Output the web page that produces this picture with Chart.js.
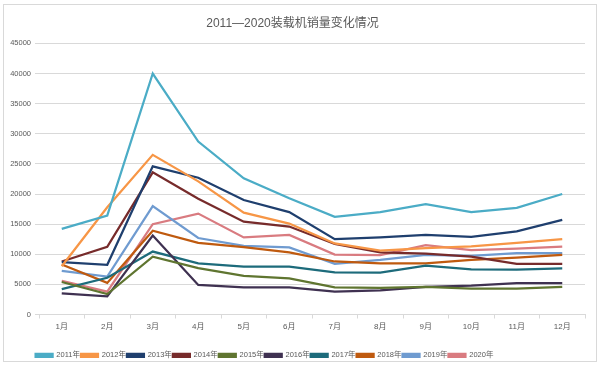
<!DOCTYPE html>
<html>
<head>
<meta charset="utf-8">
<script src="https://cdn.jsdelivr.net/npm/chart.js@4/dist/chart.umd.min.js"></script>
<style>
  html, body { margin: 0; padding: 0; background: #fff; }
  #wrap { width: 600px; height: 366px; }
</style>
</head>
<body>
<div id="wrap"><canvas id="myChart" width="600" height="366"></canvas></div>
<script>
const months = ['1月', '2月', '3月', '4月', '5月', '6月', '7月', '8月', '9月', '10月', '11月', '12月'];
const years = ['2011年', '2012年', '2013年', '2014年', '2015年', '2016年', '2017年', '2018年', '2019年', '2020年'];

const s2011 = [14200, 16400, 40000, 28700, 22600, 19300, 16200, 17000, 18300, 17000, 17700, 20000];
const s2012 = [8000, 17800, 26500, 22100, 16900, 15100, 11800, 10600, 11000, 11300, 11900, 12500];
const s2013 = [8700, 8250, 24600, 22700, 19000, 17000, 12500, 12800, 13200, 12900, 13800, 15700];
const s2014 = [8800, 11250, 23600, 19200, 15400, 14600, 11700, 10300, 10100, 9600, 8400, 8400];
const s2015 = [5400, 3400, 9600, 7700, 6400, 6000, 4500, 4400, 4600, 4300, 4300, 4600];
const s2016 = [3500, 3000, 13100, 4900, 4500, 4500, 3800, 4000, 4600, 4800, 5200, 5200];
const s2017 = [4200, 6100, 10450, 8500, 7950, 7950, 7000, 6950, 8100, 7500, 7450, 7650];
const s2018 = [8300, 5250, 13900, 11900, 11200, 10300, 8800, 8500, 8500, 9050, 9450, 9900];
const s2019 = [7250, 6300, 18000, 12700, 11400, 11150, 8400, 9050, 9900, 9750, 10200, 10200];
const s2020 = [5600, 3800, 15000, 16750, 12800, 13200, 9950, 9850, 11500, 10700, 10950, 11250];

const seriesData = [s2011, s2012, s2013, s2014, s2015, s2016, s2017, s2018, s2019, s2020];
const colors = ['#4bacc6', '#f79646', '#1f3f6e', '#772b2b', '#5f7530', '#3f3151', '#1d6b7b', '#bf5a0f', '#6f9bd0', '#d97b80'];

const fontFamily = '"Liberation Sans", "Noto Sans CJK SC", sans-serif';

// white background + thin frame round the chart
const frame = {
    id: 'frame',
    beforeDraw(chart) {
        const c = chart.ctx;
        c.save();
        c.fillStyle = '#ffffff';
        c.fillRect(0, 0, chart.width, chart.height);
        c.strokeStyle = '#d9d9d9';
        c.lineWidth = 1;
        c.strokeRect(3.5, 4.5, 593, 357);
        c.restore();
    },
    // the legend row sits a bit left of centre in the original
    afterLayout(chart) {
        chart.legend.left -= 56;
    }
};

const ctx = document.getElementById('myChart').getContext('2d');

const myChart = new Chart(ctx, {
    type: 'line',
    data: {
        labels: months,
        datasets: seriesData.map(function (d, i) {
            return {
                label: years[i],
                data: d,
                borderColor: colors[i],
                backgroundColor: colors[i],
                borderWidth: 2.25,
                pointRadius: 0,
                tension: 0,
                fill: false
            };
        })
    },
    options: {
        responsive: false,
        animation: false,
        layout: { padding: { left: 0, right: 15, top: 6, bottom: -3 } },
        plugins: {
            title: {
                display: true,
                text: '2011—2020装载机销量变化情况',
                color: '#595959',
                font: { family: fontFamily, size: 12, weight: 'normal' },
                padding: { top: 10, bottom: 13 }
            },
            legend: {
                position: 'bottom',
                labels: {
                    color: '#595959',
                    font: { family: fontFamily, size: 7.5 },
                    boxWidth: 17,
                    boxHeight: 3,
                    padding: 1
                }
            },
            tooltip: { enabled: false }
        },
        scales: {
            x: {
                offset: true,
                afterFit(scale) { scale.height = 36; },
                grid: {
                    offset: true,
                    drawOnChartArea: false,
                    drawTicks: true,
                    tickLength: 4,
                    color: '#d9d9d9'
                },
                border: { color: '#d9d9d9' },
                ticks: {
                    color: '#595959',
                    font: { family: fontFamily, size: 8 },
                    padding: 3,
                    maxRotation: 0
                }
            },
            y: {
                min: 0,
                max: 45000,
                afterFit(scale) { scale.width = 39; },
                grid: {
                    color: '#d9d9d9',
                    tickLength: 4,
                    drawTicks: true
                },
                border: { display: false },
                ticks: {
                    stepSize: 5000,
                    color: '#595959',
                    font: { family: fontFamily, size: 7.5 },
                    padding: 4,
                    callback: function (v) { return String(v); }
                }
            }
        }
    },
    plugins: [frame]
});
</script>
</body>
</html>
